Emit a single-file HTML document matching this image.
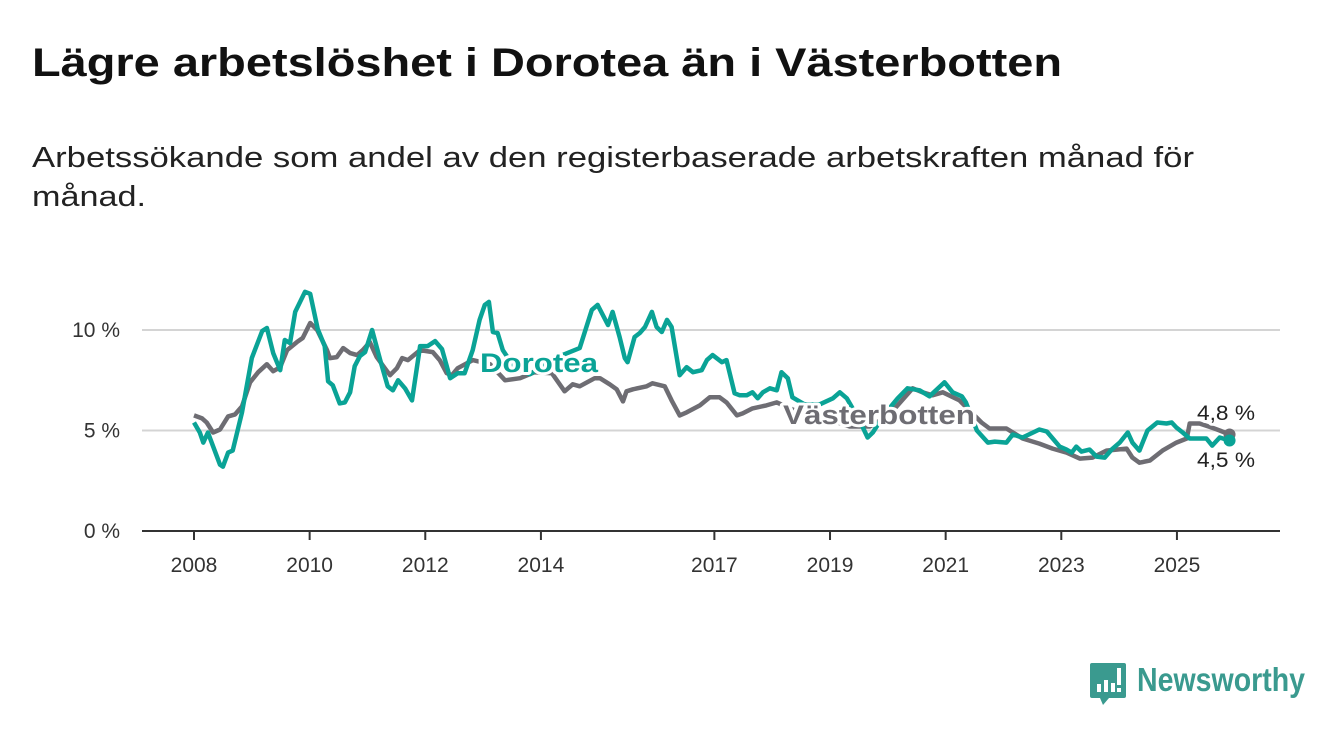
<!DOCTYPE html>
<html><head><meta charset="utf-8"><style>
html,body{margin:0;padding:0;background:#fff;width:1340px;height:734px;overflow:hidden}
svg{display:block;font-family:"Liberation Sans",sans-serif}
</style></head><body>
<svg id="chart" width="1340" height="734" viewBox="0 0 1340 734">
<text x="32" y="76" font-size="40" font-weight="bold" fill="#111" textLength="1030" lengthAdjust="spacingAndGlyphs">Lägre arbetslöshet i Dorotea än i Västerbotten</text>
<text x="32" y="167" font-size="29" fill="#222" textLength="1162" lengthAdjust="spacingAndGlyphs">Arbetssökande som andel av den registerbaserade arbetskraften månad för</text>
<text x="32" y="206" font-size="29" fill="#222" textLength="114" lengthAdjust="spacingAndGlyphs">månad.</text>
<g id="grid"></g><g id="axes"></g><g id="series"></g><g id="labels"></g>
<g>
<path d="M1092 663 h32 a2 2 0 0 1 2 2 v31 a2 2 0 0 1 -2 2 h-15 l-6 7 l-3 -7 h-8 a2 2 0 0 1 -2 -2 v-31 a2 2 0 0 1 2 -2z" fill="#3a9a8f"/>
<rect x="1097" y="684" width="4" height="8" fill="#fff"/><rect x="1104" y="680" width="4" height="12" fill="#fff"/><rect x="1111" y="683" width="4" height="9" fill="#fff"/><rect x="1117" y="668" width="4" height="17" fill="#fff"/><rect x="1117" y="688" width="4" height="4" fill="#fff"/>
<text x="1137" y="691" font-size="33" font-weight="600" fill="#3a9a8f" textLength="168" lengthAdjust="spacingAndGlyphs">Newsworthy</text>
</g>
</svg>
<script>
const xTicks=[2008,2010,2012,2014,2017,2019,2021,2023,2025];
const yTicks=[0,5,10];
const doroteaDates=[2008.0,2008.10,2008.16,2008.24,2008.45,2008.50,2008.59,2008.67,2008.83,2009.00,2009.18,2009.26,2009.37,2009.49,2009.57,2009.66,2009.75,2009.92,2010.01,2010.14,2010.26,2010.32,2010.40,2010.52,2010.61,2010.70,2010.78,2010.87,2010.96,2011.08,2011.22,2011.35,2011.44,2011.53,2011.65,2011.77,2011.91,2012.04,2012.17,2012.29,2012.43,2012.56,2012.68,2012.82,2012.94,2013.03,2013.10,2013.17,2013.25,2013.34,2013.55,2013.81,2014.07,2014.33,2014.67,2014.88,2014.98,2015.16,2015.24,2015.36,2015.45,2015.50,2015.62,2015.71,2015.80,2015.92,2016.00,2016.09,2016.18,2016.26,2016.40,2016.52,2016.63,2016.78,2016.87,2016.97,2017.13,2017.21,2017.35,2017.44,2017.56,2017.66,2017.75,2017.84,2017.96,2018.08,2018.16,2018.27,2018.35,2018.56,2018.82,2019.05,2019.17,2019.29,2019.51,2019.65,2019.74,2019.94,2020.17,2020.34,2020.55,2020.72,2020.98,2021.12,2021.28,2021.35,2021.54,2021.73,2021.85,2022.05,2022.16,2022.33,2022.62,2022.75,2022.97,2023.09,2023.18,2023.26,2023.35,2023.49,2023.61,2023.75,2023.87,2024.01,2024.15,2024.23,2024.35,2024.49,2024.66,2024.82,2024.91,2024.99,2025.10,2025.22,2025.39,2025.51,2025.61,2025.74,2025.91];
const doroteaValues=[5.4,4.9,4.4,4.9,3.3,3.2,3.9,4.0,5.9,8.6,9.95,10.1,8.85,8.0,9.5,9.35,10.9,11.9,11.8,10.05,9.2,7.45,7.25,6.35,6.4,6.9,8.2,8.7,8.9,10.0,8.5,7.2,7.0,7.5,7.1,6.5,9.2,9.2,9.45,9.05,7.6,7.85,7.85,9.0,10.5,11.25,11.4,9.9,9.85,9.0,8.1,7.8,8.3,8.7,9.1,11.0,11.25,10.25,10.9,9.65,8.6,8.4,9.65,9.85,10.15,10.9,10.15,9.9,10.5,10.15,7.75,8.15,7.9,8.0,8.5,8.75,8.4,8.5,6.85,6.75,6.75,6.9,6.6,6.9,7.1,7.0,7.9,7.6,6.65,6.3,6.3,6.6,6.9,6.6,5.5,4.65,4.9,5.8,6.6,7.1,7.0,6.7,7.4,6.9,6.7,6.4,5.0,4.4,4.45,4.4,4.8,4.65,5.05,4.95,4.2,4.05,3.9,4.2,3.95,4.05,3.7,3.65,4.05,4.4,4.9,4.4,4.0,5.0,5.4,5.35,5.4,5.15,4.9,4.6,4.6,4.6,4.25,4.65,4.5];
const vbDates=[2008.0,2008.14,2008.22,2008.33,2008.45,2008.59,2008.71,2008.83,2008.97,2009.11,2009.26,2009.37,2009.49,2009.61,2009.78,2009.88,2010.01,2010.13,2010.30,2010.35,2010.47,2010.58,2010.70,2010.82,2010.92,2011.04,2011.16,2011.30,2011.39,2011.51,2011.60,2011.70,2011.91,2012.13,2012.25,2012.37,2012.46,2012.56,2012.82,2013.12,2013.38,2013.64,2013.89,2014.19,2014.41,2014.55,2014.67,2014.93,2015.02,2015.19,2015.31,2015.42,2015.48,2015.59,2015.83,2015.93,2016.14,2016.26,2016.40,2016.52,2016.75,2016.92,2017.09,2017.21,2017.39,2017.49,2017.66,2017.90,2018.08,2018.39,2018.82,2019.34,2019.69,2020.03,2020.43,2020.60,2020.77,2020.95,2021.24,2021.62,2021.76,2022.05,2022.33,2022.62,2022.85,2023.09,2023.32,2023.54,2023.78,2024.13,2024.23,2024.35,2024.53,2024.75,2024.99,2025.17,2025.22,2025.39,2025.60,2025.74,2025.91];
const vbValues=[5.75,5.6,5.4,4.9,5.05,5.7,5.8,6.2,7.4,7.9,8.3,7.95,8.15,9.0,9.4,9.6,10.35,10.0,9.0,8.6,8.65,9.1,8.85,8.75,9.0,9.4,8.65,8.1,7.75,8.1,8.6,8.5,9.0,8.9,8.5,7.85,7.75,8.1,8.5,8.3,7.5,7.6,7.9,7.85,6.95,7.3,7.2,7.6,7.6,7.3,7.05,6.45,6.95,7.05,7.2,7.35,7.2,6.5,5.75,5.9,6.25,6.65,6.65,6.4,5.75,5.85,6.1,6.25,6.4,6.0,5.7,5.2,5.2,5.8,7.1,6.9,6.75,6.9,6.5,5.4,5.1,5.1,4.6,4.35,4.1,3.9,3.6,3.65,4.0,4.1,3.65,3.4,3.5,4.0,4.4,4.6,5.35,5.35,5.15,5.0,4.8];

const NS='http://www.w3.org/2000/svg';
const X=y=>194+(y-2008)*57.82;
const Y=v=>531-v*20.1;
function mk(tag,attrs,parent){const e=document.createElementNS(NS,tag);for(const k in attrs)e.setAttribute(k,attrs[k]);parent.appendChild(e);return e;}
const grid=document.getElementById('grid'),axes=document.getElementById('axes'),series=document.getElementById('series'),labels=document.getElementById('labels');
yTicks.forEach(t=>{
  const l=mk('line',{x1:142,x2:1280,y1:Y(t),y2:Y(t),stroke:t===0?'#333':'#d4d4d4','stroke-width':2},grid);
  
  
  const tx=mk('text',{x:120,y:Y(t)+7,'font-size':21,fill:'#333','text-anchor':'end'},axes);
  tx.textContent=t+' %';
  
  
});
xTicks.forEach(t=>{
  const l=mk('line',{x1:X(t),x2:X(t),y1:531,y2:540,stroke:'#333','stroke-width':2},axes);
  
  
  const tx=mk('text',{x:X(t),y:572,'font-size':21,fill:'#333','text-anchor':'middle'},axes);
  tx.textContent=t;
  
  
});
function path(d,v){return d.map((x,i)=>(i?'L':'M')+X(x).toFixed(1)+' '+Y(v[i]).toFixed(1)).join(' ');}
const pv=mk('path',{d:path(vbDates,vbValues),fill:'none',stroke:'#6e6d73','stroke-width':4.5,'stroke-linejoin':'round'},series);


const pd=mk('path',{d:path(doroteaDates,doroteaValues),fill:'none',stroke:'#0aa396','stroke-width':4.5,'stroke-linejoin':'round'},series);


const lv=vbDates.length-1,ld=doroteaDates.length-1;
const cv=mk('circle',{cx:X(vbDates[lv]),cy:Y(vbValues[lv]),r:6,fill:'#6e6d73'},series);


const cd=mk('circle',{cx:X(doroteaDates[ld]),cy:Y(doroteaValues[ld]),r:6,fill:'#0aa396'},series);


function lab(txt,x,y,fill,size,weight,len,name){
  const t=mk('text',{x:x,y:y,'font-size':size,'font-weight':weight,fill:fill,stroke:'#fff','stroke-width':6,'paint-order':'stroke','stroke-linejoin':'round',textLength:len,lengthAdjust:'spacingAndGlyphs'},labels);
  t.textContent=txt;
  
  
}
lab('Dorotea',480,372,'#0aa396',27,'bold',118,'dorotea-label');
lab('Västerbotten',783,424,'#6e6d73',27,'bold',192,'vasterbotten-label');
lab(vbValues[lv].toFixed(1).replace('.',',')+' %',1197,420,'#222',21,'normal',58,'vasterbotten-end-value');
lab(doroteaValues[ld].toFixed(1).replace('.',',')+' %',1197,467,'#222',21,'normal',58,'dorotea-end-value');
</script>
</body></html>
